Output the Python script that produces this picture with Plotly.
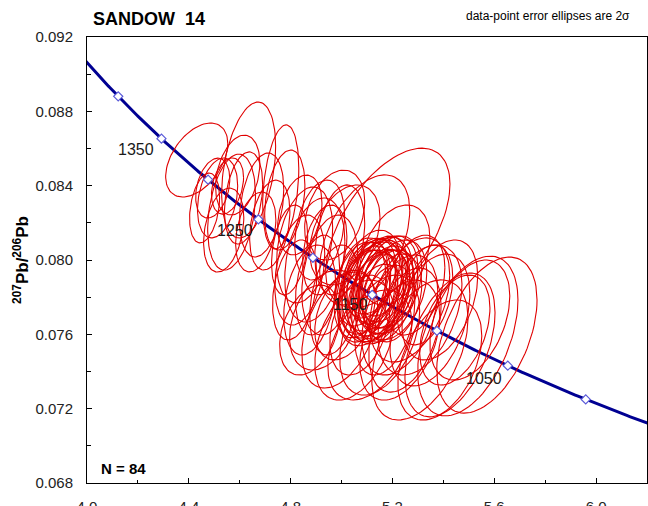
import numpy as np
import plotly.graph_objects as go

# ---- data ----
sample_name = "SANDOW 14"
n_label = "N = 84"

# error ellipses (2 sigma): centres, half-widths and error correlation
ell_x = [4.431, 4.635, 4.761, 4.513, 4.568, 4.494, 4.615, 4.686, 4.552, 4.663,
         4.537, 4.592, 4.718, 4.462,
         4.855, 4.895, 4.836, 4.914, 4.954, 4.816, 4.875, 4.934, 4.993, 4.796,
         4.906, 4.973,
         5.182, 5.091, 5.013,
         5.119, 5.142, 5.162, 5.103, 5.131, 5.150, 5.174, 5.091, 5.111, 5.134,
         5.182, 5.103, 5.158, 5.127, 5.170, 5.079, 5.190, 5.142, 5.119, 5.087,
         5.197, 5.134, 5.166, 5.072, 5.205,
         5.268, 5.308, 5.229, 5.347, 5.209, 5.288, 5.386, 5.249, 5.170, 5.327,
         5.571, 5.496, 5.308, 5.426, 5.386, 5.229, 5.504, 5.445,
         4.993, 5.052, 5.111, 4.934, 5.150, 5.013, 4.875, 5.072,
         4.836, 4.973, 5.209, 4.777]
ell_y = [0.08538, 0.08484, 0.08393, 0.08334, 0.08258, 0.08387, 0.08334, 0.08296, 0.08398, 0.08151,
         0.08161, 0.08457, 0.08188, 0.08280,
         0.08081, 0.08000, 0.07946, 0.08161, 0.07919, 0.07839, 0.07785, 0.08054, 0.08108, 0.08054,
         0.07865, 0.07785,
         0.08172, 0.08108, 0.08135,
         0.07865, 0.07849, 0.07876, 0.07828, 0.07892, 0.07817, 0.07839, 0.07849, 0.07903, 0.07796,
         0.07882, 0.07796, 0.07914, 0.07828, 0.07806, 0.07882, 0.07828, 0.07763, 0.07935, 0.07806,
         0.07882, 0.07849, 0.07860, 0.07839, 0.07796,
         0.07785, 0.07731, 0.07704, 0.07677, 0.07839, 0.07865, 0.07785, 0.07623, 0.07677, 0.07812,
         0.07596, 0.07591, 0.07516, 0.07543, 0.07462, 0.07569, 0.07677, 0.07623,
         0.07623, 0.07569, 0.07543, 0.07677, 0.07596, 0.07704, 0.07623, 0.07650,
         0.08242, 0.08242, 0.08027, 0.08323]
ell_sx = [0.122, 0.106, 0.071, 0.079, 0.094, 0.067, 0.075, 0.087, 0.063, 0.079,
          0.079, 0.087, 0.079, 0.059,
          0.110, 0.118, 0.098, 0.098, 0.110, 0.087, 0.102, 0.087, 0.098, 0.071,
          0.087, 0.098,
          0.244, 0.177, 0.138,
          0.118, 0.126, 0.118, 0.110, 0.110, 0.118, 0.110, 0.102, 0.102, 0.110,
          0.118, 0.118, 0.102, 0.126, 0.118, 0.102, 0.110, 0.102, 0.110, 0.102,
          0.118, 0.087, 0.094, 0.102, 0.110,
          0.157, 0.165, 0.149, 0.157, 0.126, 0.118, 0.149, 0.142, 0.118, 0.110,
          0.197, 0.197, 0.189, 0.177, 0.165, 0.157, 0.157, 0.138,
          0.149, 0.157, 0.165, 0.138, 0.157, 0.118, 0.118, 0.118,
          0.087, 0.118, 0.138, 0.079]
ell_sy = [0.00199, 0.00366, 0.00334, 0.00215, 0.00312, 0.00161, 0.00248, 0.00280, 0.00151, 0.00215,
          0.00226, 0.00215, 0.00242, 0.00188,
          0.00312, 0.00334, 0.00296, 0.00269, 0.00323, 0.00269, 0.00296, 0.00242, 0.00296, 0.00242,
          0.00269, 0.00296,
          0.00430, 0.00350, 0.00269,
          0.00248, 0.00258, 0.00248, 0.00248, 0.00226, 0.00242, 0.00237, 0.00248, 0.00215, 0.00237,
          0.00248, 0.00258, 0.00215, 0.00269, 0.00248, 0.00237, 0.00226, 0.00215, 0.00226, 0.00248,
          0.00248, 0.00194, 0.00194, 0.00258, 0.00237,
          0.00334, 0.00350, 0.00323, 0.00355, 0.00269, 0.00269, 0.00323, 0.00334, 0.00296, 0.00269,
          0.00420, 0.00430, 0.00377, 0.00387, 0.00323, 0.00323, 0.00323, 0.00296,
          0.00312, 0.00323, 0.00296, 0.00269, 0.00323, 0.00242, 0.00242, 0.00269,
          0.00215, 0.00242, 0.00269, 0.00269]
ell_rho = [0.45, 0.35, 0.30, 0.30, 0.30, 0.30, 0.30, 0.30, 0.30, 0.30,
           0.30, 0.30, 0.30, 0.30,
           0.30, 0.30, 0.30, 0.30, 0.30, 0.30, 0.30, 0.30, 0.30, 0.30,
           0.30, 0.30,
           0.55, 0.45, 0.35,
           0.30, 0.30, 0.30, 0.30, 0.30, 0.30, 0.30, 0.30, 0.30, 0.30,
           0.30, 0.30, 0.30, 0.30, 0.30, 0.30, 0.30, 0.30, 0.30, 0.30,
           0.30, 0.30, 0.30, 0.30, 0.30,
           0.40, 0.40, 0.40, 0.40, 0.35, 0.35, 0.40, 0.40, 0.35, 0.35,
           0.45, 0.45, 0.45, 0.45, 0.40, 0.40, 0.40, 0.40,
           0.40, 0.40, 0.40, 0.35, 0.40, 0.35, 0.35, 0.35,
           0.30, 0.30, 0.35, 0.30]

# concordia age marks (Ma) and labelled ages
marker_ages = [1000, 1050, 1100, 1150, 1200, 1250, 1300, 1350, 1400]
label_ages = [1050, 1150, 1250, 1350]
label_x = [5.559, 5.037, 4.582, 4.194]
label_y = [0.07365, 0.07758, 0.08161, 0.08592]

# axis ranges
x_range = [4.0, 6.2]
y_range = [0.068, 0.092]

# ---- Tera-Wasserburg concordia ----
L238, L235, U = 1.55125e-10, 9.8485e-10, 137.88


def tw(age_ma):
    t = np.asarray(age_ma, dtype=float) * 1e6
    e8 = np.exp(L238 * t) - 1.0
    e5 = np.exp(L235 * t) - 1.0
    return 1.0 / e8, e5 / e8 / U


cx, cy = tw(np.linspace(940, 1460, 400))
mx, my = tw(marker_ages)

# ---- ellipse outlines ----
th = np.linspace(0, 2 * np.pi, 90)
ex, ey = [], []
for x0, y0, sx, sy, r in zip(ell_x, ell_y, ell_sx, ell_sy, ell_rho):
    xs = x0 + sx * np.cos(th)
    ys = y0 + sy * (r * np.cos(th) + np.sqrt(1 - r * r) * np.sin(th))
    ex += list(xs) + [None]
    ey += list(ys) + [None]

FONT = "Liberation Sans, Arial, sans-serif"

fig = go.Figure()
fig.add_trace(go.Scatter(x=cx, y=cy, mode="lines",
                         line=dict(color="#000092", width=3), hoverinfo="skip"))
fig.add_trace(go.Scatter(x=ex, y=ey, mode="lines",
                         line=dict(color="#e00000", width=1.1), hoverinfo="skip"))
fig.add_trace(go.Scatter(x=mx, y=my, mode="markers",
                         marker=dict(symbol="diamond", size=7, color="white",
                                     line=dict(color="#5a5ad8", width=1.2)),
                         hoverinfo="skip"))

for a, lx, ly in zip(label_ages, label_x, label_y):
    fig.add_annotation(x=lx, y=ly, text=str(a), showarrow=False,
                       font=dict(family=FONT, size=16, color="#1a1a1a"))

fig.add_annotation(xref="paper", yref="paper", x=0.007, y=1, xanchor="left",
                   yanchor="middle", yshift=18, showarrow=False,
                   text="<b>SANDOW&nbsp;&nbsp;14</b>",
                   font=dict(family=FONT, size=18, color="#000"))
fig.add_annotation(xref="paper", yref="paper", x=0.973, y=1, xanchor="right",
                   yanchor="middle", yshift=21, showarrow=False,
                   text="data-point error ellipses are 2σ",
                   font=dict(family=FONT, size=12, color="#000"))
fig.add_annotation(xref="paper", yref="paper", x=0.022, y=0, xanchor="left",
                   yanchor="middle", yshift=15, showarrow=False,
                   text="<b>" + n_label + "</b>",
                   font=dict(family=FONT, size=15, color="#000"))

fig.update_xaxes(range=x_range, dtick=0.4, tick0=4.0, tickformat=".1f",
                 ticks="inside", ticklen=5, tickcolor="#000",
                 minor=dict(dtick=0.2, ticks="inside", ticklen=3, tickcolor="#000"),
                 showline=True, linecolor="#000", linewidth=1, mirror=True,
                 showgrid=False, zeroline=False, ticklabelstandoff=10,
                 automargin=False,
                 tickfont=dict(family=FONT, size=15, color="#222"))
fig.update_yaxes(range=y_range, dtick=0.004, tick0=0.068, tickformat=".3f",
                 ticks="inside", ticklen=5, tickcolor="#000",
                 minor=dict(dtick=0.002, ticks="inside", ticklen=4, tickcolor="#000"),
                 showline=True, linecolor="#000", linewidth=1, mirror=True,
                 showgrid=False, zeroline=False, ticklabelstandoff=10,
                 automargin=False,
                 tickfont=dict(family=FONT, size=15, color="#222"),
                 title=dict(text="<b><sup>207</sup>Pb/<sup>206</sup>Pb</b>",
                            font=dict(family=FONT, size=17, color="#000"),
                            standoff=2))

fig.update_layout(width=648, height=506, showlegend=False,
                  margin=dict(l=87, r=1, t=37, b=23),
                  plot_bgcolor="white", paper_bgcolor="white")

fig.write_html("out.html")
